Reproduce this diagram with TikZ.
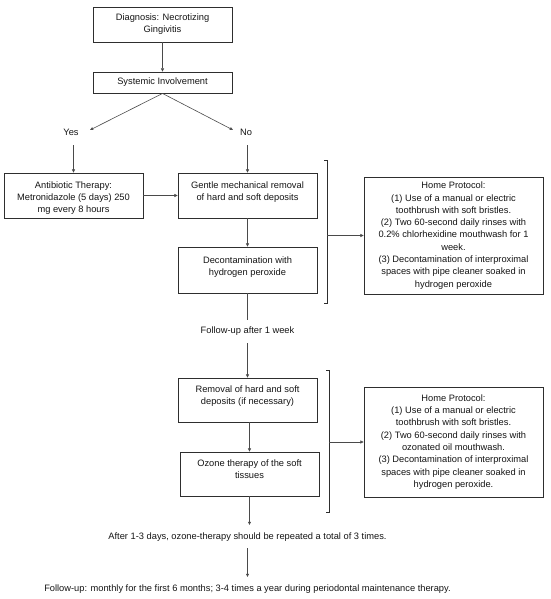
\documentclass[tikz,border=0pt]{standalone}
\usepackage{fontspec}
\setmainfont{Liberation Sans}
\usetikzlibrary{arrows.meta}
\definecolor{boxc}{HTML}{2E2E2E}
\definecolor{linec}{HTML}{4A4A4A}
\definecolor{txtc}{HTML}{151515}
\begin{document}
\begin{tikzpicture}[x=1pt,y=-1pt,
  box/.style={draw=boxc, line width=0.9pt, inner sep=0pt, fill=white, font=\fontsize{9.3}{12.3}\selectfont, text=txtc, align=center},
  txt/.style={font=\fontsize{9.3}{12.3}\selectfont, align=center, inner sep=0pt, text=txtc},
  arr/.style={draw=linec, line width=0.6pt, -{Triangle[length=3.2pt,width=3pt]}},
  ln/.style={draw=linec, line width=0.6pt},
  brk/.style={draw=boxc, line width=0.8pt},
]
\useasboundingbox (0,0) rectangle (550,599);

% boxes
\node[box, minimum width=139pt, minimum height=35pt] (diag) at (162.5,24.5) {};
\node[txt, anchor=north] (diagt) at ([yshift=-6.6pt]diag.north) {Diagnosis: Necrotizing\\Gingivitis};
\node[box, minimum width=139pt, minimum height=21pt] (sys) at (162.5,82.5) {Systemic Involvement};

\node[txt] (yes) at (71,132) {Yes};
\node[txt] (no) at (246,132) {No};
\coordinate (yesend) at (90,130);
\coordinate (noend) at (233,130);

\node[box, minimum width=139pt, minimum height=45pt] (antib) at (73.5,195.5) {};
\node[txt, anchor=north] (antibt) at ([yshift=-8.6pt]antib.north) {Antibiotic Therapy:\\Metronidazole (5 days) 250\\mg every 8 hours};
\node[box, minimum width=139pt, minimum height=45pt] (gentle) at (247.5,195.5) {};
\node[txt, anchor=north] (gentlet) at ([yshift=-8.6pt]gentle.north) {Gentle mechanical removal\\of hard and soft deposits};
\node[box, minimum width=139pt, minimum height=46pt] (decon) at (247.5,270) {};
\node[txt, anchor=north] (decont) at ([yshift=-9.6pt]decon.north) {Decontamination with\\hydrogen peroxide};

\node[box, minimum width=179pt, minimum height=117pt] (home1) at (453.5,235.5) {Home Protocol:\\(1) Use of a manual or electric\\toothbrush with soft bristles.\\(2) Two 60-second daily rinses with\\0.2\% chlorhexidine mouthwash for 1\\week.\\(3) Decontamination of interproximal\\spaces with pipe cleaner soaked in\\hydrogen peroxide};

\node[txt] (fu1) at (247.5,331) {Follow-up after 1 week};

\node[box, minimum width=139pt, minimum height=44pt] (removal) at (247.5,400) {};
\node[txt, anchor=north] (removalt) at ([yshift=-7.6pt]removal.north) {Removal of hard and soft\\deposits (if necessary)};
\node[box, minimum width=139pt, minimum height=44pt] (ozone) at (249.5,474) {};
\node[txt, anchor=north] (ozonet) at ([yshift=-7.6pt]ozone.north) {Ozone therapy of the soft\\tissues};

\node[box, minimum width=179pt, minimum height=110pt] (home2) at (453.5,442) {Home Protocol:\\(1) Use of a manual or electric\\toothbrush with soft bristles.\\(2) Two 60-second daily rinses with\\ozonated oil mouthwash.\\(3) Decontamination of interproximal\\spaces with pipe cleaner soaked in\\hydrogen peroxide.};

\node[txt] (after) at (247.5,537) {After 1-3 days, ozone-therapy should be repeated a total of 3 times.};
\node[txt] (fu2) at (247.5,589) {Follow-up: monthly for the first 6 months; 3-4 times a year during periodontal maintenance therapy.};

% connectors
\draw[arr] (diag.south) -- (sys.north);
\draw[arr] (sys.south) -- (yesend);
\draw[arr] (sys.south) -- (noend);
\draw[arr] ([yshift=-13pt]yes.center -| antib.north) -- (antib.north);
\draw[arr] ([yshift=-13pt]no.center -| gentle.north) -- (gentle.north);
\draw[arr] (antib.east) -- (gentle.west);
\draw[arr] (gentle.south) -- (decon.north);
\draw[ln] (decon.south) -- ([yshift=11pt]fu1.center);
\draw[arr] ([yshift=-12pt]fu1.center) -- (removal.north);
\draw[arr] (ozone.north |- removal.south) -- (ozone.north);
\draw[arr] (ozone.south) -- ([yshift=12pt]after.center -| ozone.south);
\draw[arr] ([yshift=-11pt]after.center) -- ([yshift=12pt]fu2.center);

% brackets
\draw[brk] (324,160) -- (327,160) -- (327,303) -- (324,303);
\coordinate (b1) at (327,235.5);
\draw[arr] (b1) -- (home1.west);
\draw[brk] (326,370) -- (329,370) -- (329,512) -- (326,512);
\coordinate (b2) at (329,442);
\draw[arr] (b2) -- (home2.west);
\end{tikzpicture}
\end{document}
